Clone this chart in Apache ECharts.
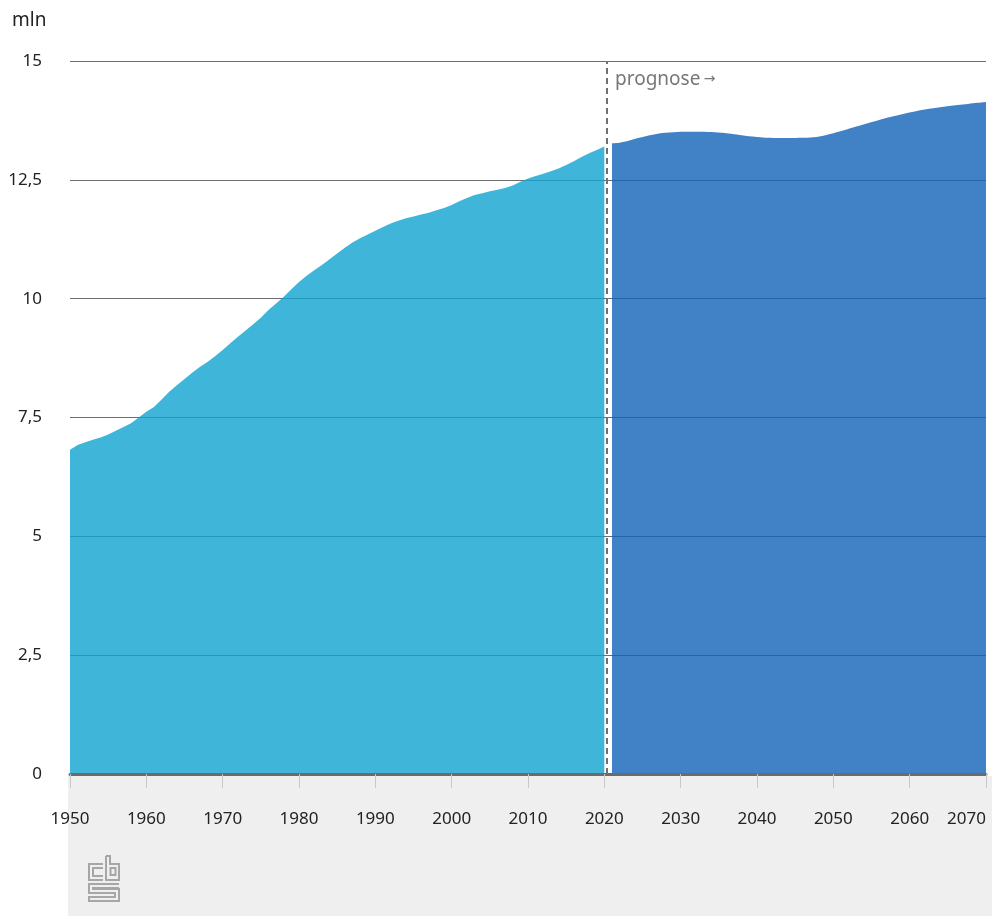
<!DOCTYPE html>
<html>
<head>
<meta charset="utf-8">
<script src="https://cdn.jsdelivr.net/npm/echarts@6/dist/echarts.min.js"></script>
<style>
  html, body { margin: 0; padding: 0; background: #fff; }
  #chart { width: 997px; height: 916px; }
</style>
</head>
<body>
<div id="chart"></div>
<script>
// Observed years 1950-2020
const historyYears = [
  1950, 1951, 1952, 1953, 1954, 1955, 1956, 1957, 1958, 1959,
  1960, 1961, 1962, 1963, 1964, 1965, 1966, 1967, 1968, 1969,
  1970, 1971, 1972, 1973, 1974, 1975, 1976, 1977, 1978, 1979,
  1980, 1981, 1982, 1983, 1984, 1985, 1986, 1987, 1988, 1989,
  1990, 1991, 1992, 1993, 1994, 1995, 1996, 1997, 1998, 1999,
  2000, 2001, 2002, 2003, 2004, 2005, 2006, 2007, 2008, 2009,
  2010, 2011, 2012, 2013, 2014, 2015, 2016, 2017, 2018, 2019,
  2020
];
const historyValues = [
  6.82, 6.92, 6.98, 7.03, 7.08, 7.14, 7.22, 7.30, 7.38, 7.50,
  7.62, 7.72, 7.88, 8.04, 8.18, 8.31, 8.44, 8.56, 8.67, 8.79,
  8.92, 9.06, 9.20, 9.33, 9.46, 9.60, 9.76, 9.90, 10.04, 10.20,
  10.35, 10.48, 10.60, 10.71, 10.83, 10.95, 11.07, 11.18, 11.27, 11.35,
  11.43, 11.51, 11.58, 11.64, 11.69, 11.73, 11.77, 11.81, 11.86, 11.91,
  11.97, 12.05, 12.12, 12.18, 12.22, 12.26, 12.29, 12.33, 12.38, 12.46,
  12.53, 12.58, 12.63, 12.68, 12.74, 12.81, 12.89, 12.98, 13.06, 13.13,
  13.20
];

// Projection 2021-2070
const forecastYears = [2021, 2022, 2025, 2028, 2032, 2036, 2040, 2043, 2047, 2050, 2053, 2056, 2059, 2062, 2066, 2070];
const forecastValues = [13.27, 13.28, 13.40, 13.49, 13.51, 13.48, 13.40, 13.38, 13.39, 13.48, 13.62, 13.76, 13.88, 13.98, 14.07, 14.14];

// Axis ticks
const xTicks = { min: 1950, max: 2070, step: 10 };
const yTicks = { min: 0, max: 15, step: 2.5 };
const forecastStart = 2020.3;

const pairs = (xs, ys) => xs.map((x, i) => [x, ys[i]]);
const fmt = v => String(v).replace('.', ',');

const FONT = '"Noto Sans", "DejaVu Sans", sans-serif';

const chart = echarts.init(document.getElementById('chart'), null, { renderer: 'canvas' });

chart.setOption({
  animation: false,
  backgroundColor: '#ffffff',
  grid: { left: 70, right: 11, top: 61, bottom: 142, containLabel: false },
  xAxis: {
    type: 'value',
    min: xTicks.min,
    max: xTicks.max,
    interval: xTicks.step,
    axisLine: { show: true, onZero: false, lineStyle: { color: '#6b6b6b', width: 3 } },
    axisTick: { show: true, length: 14, lineStyle: { color: '#c8c8c8', width: 1 } },
    splitLine: { show: false },
    axisLabel: {
      margin: 37,
      color: '#222',
      fontFamily: FONT,
      fontSize: 17,
      alignMaxLabel: 'right',
      formatter: v => String(v)
    },
    z: 3
  },
  yAxis: {
    type: 'value',
    min: yTicks.min,
    max: yTicks.max,
    interval: yTicks.step,
    axisLine: { show: false },
    axisTick: { show: false },
    axisLabel: {
      margin: 28,
      color: '#222',
      fontFamily: FONT,
      fontSize: 17,
      padding: [2, 0, 0, 0],
      formatter: v => fmt(v)
    },
    splitLine: { show: true, lineStyle: { color: '#6e6e6e', width: 1 } }
  },
  graphic: [
    {
      type: 'rect',
      z: -10,
      silent: true,
      shape: { x: 68, y: 776, width: 924, height: 140 },
      style: { fill: '#efefef' }
    },
    {
      type: 'text',
      left: 12,
      top: 11,
      style: { text: 'mln', fill: '#222', font: '19px ' + FONT }
    },
    {
      type: 'text',
      left: 615,
      top: 70,
      style: {
        text: '{a|prognose} {b|→}',
        rich: {
          a: { fill: '#777', fontFamily: FONT, fontSize: 19 },
          b: { fill: '#777', fontFamily: FONT, fontSize: 14 }
        }
      }
    },
    // CBS logo mark
    {
      type: 'group',
      silent: true,
      children: [
        { type: 'polyline', shape: { points: [[103, 864], [89, 864], [89, 880], [103, 880]] }, style: { stroke: '#a6a6a6', lineWidth: 2, fill: null } },
        { type: 'polyline', shape: { points: [[103, 868], [93, 868], [93, 876], [103, 876]] }, style: { stroke: '#a6a6a6', lineWidth: 2, fill: null } },
        { type: 'polyline', shape: { points: [[106, 856], [106, 880], [119, 880], [119, 864], [110, 864], [110, 856], [106, 856]] }, style: { stroke: '#a6a6a6', lineWidth: 2, fill: null } },
        { type: 'rect', shape: { x: 110.5, y: 868, width: 5, height: 7 }, style: { stroke: '#a6a6a6', lineWidth: 2, fill: null } },
        { type: 'polyline', shape: { points: [[119, 884], [89, 884], [89, 893], [115, 893], [115, 897], [89, 897], [89, 901], [119, 901], [119, 889], [93, 889], [93, 888], [119, 888]] }, style: { stroke: '#a6a6a6', lineWidth: 2, fill: null } }
      ]
    }
  ],
  series: [
    {
      name: 'historie',
      type: 'line',
      data: pairs(historyYears, historyValues),
      symbol: 'none',
      smooth: false,
      lineStyle: { width: 0 },
      areaStyle: { color: 'rgb(15,164,208)', opacity: 0.8 },
      z: 2
    },
    {
      name: 'prognose',
      type: 'line',
      data: pairs(forecastYears, forecastValues),
      symbol: 'none',
      smooth: 0.4,
      lineStyle: { width: 0 },
      areaStyle: { color: 'rgb(18,98,184)', opacity: 0.8 },
      z: 2,
      markLine: {
        silent: true,
        symbol: 'none',
        label: { show: false },
        lineStyle: { color: '#707070', width: 2, type: [6, 4] },
        data: [{ xAxis: forecastStart }]
      }
    }
  ]
});
</script>
</body>
</html>
